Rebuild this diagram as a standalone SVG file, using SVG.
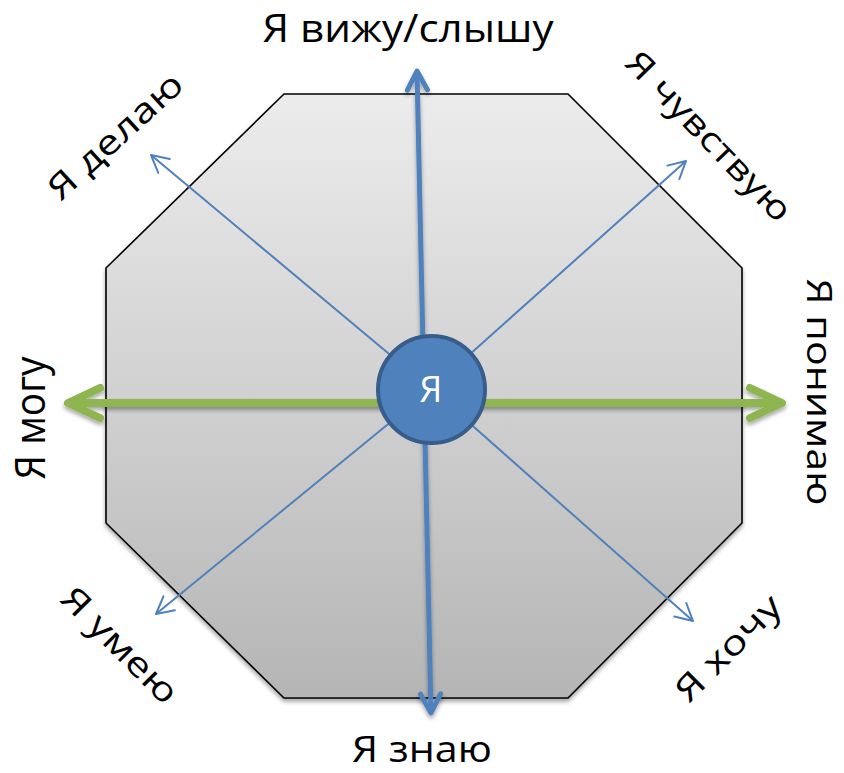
<svg xmlns="http://www.w3.org/2000/svg" width="844" height="773" viewBox="0 0 844 773">
<defs>
<linearGradient id="octFill" x1="0" y1="0" x2="0" y2="1">
<stop offset="0" stop-color="#ececec"/>
<stop offset="1" stop-color="#b5b5b5"/>
</linearGradient>
<filter id="shadow" filterUnits="userSpaceOnUse" x="0" y="0" width="844" height="773">
<feDropShadow dx="0" dy="3" stdDeviation="2" flood-color="#000" flood-opacity="0.35"/>
</filter>
<marker id="headGreen" markerUnits="userSpaceOnUse" markerWidth="60" markerHeight="60" orient="auto-start-reverse" overflow="visible">
<path d="M-32,-15 L0,0 L-32,15" fill="none" stroke="#8eb550" stroke-width="8" stroke-linecap="round" stroke-linejoin="round"/>
</marker>
<marker id="headBlue" markerUnits="userSpaceOnUse" markerWidth="60" markerHeight="60" orient="auto-start-reverse" overflow="visible">
<path d="M-19,-10 L0,0 L-19,10" fill="none" stroke="#4f81bd" stroke-width="5" stroke-linecap="round" stroke-linejoin="round"/>
</marker>
<marker id="headThin" markerUnits="userSpaceOnUse" markerWidth="40" markerHeight="40" orient="auto" overflow="visible">
<path d="M-17,-9 L0,0 L-17,9" fill="none" stroke="#4f81bd" stroke-width="2" stroke-linecap="round" stroke-linejoin="round"/>
</marker>
</defs>
<style>
.lbl{font-family:"Open Sans","Noto Sans","Liberation Sans",sans-serif;fill:#000;}
.thin{stroke:#4f81bd;stroke-width:2;fill:none;marker-end:url(#headThin);}
</style>
<g id="octagon">
<polygon points="284,94 568,94 742,268 742,523 568,698 284,698 106,523 106,268" fill="url(#octFill)" stroke="#000" stroke-width="1.6" filter="url(#shadow)"/>
</g>
<g id="connectors">
<line x1="68" y1="403" x2="782" y2="403" stroke="#8eb550" stroke-width="8" marker-start="url(#headGreen)" marker-end="url(#headGreen)" filter="url(#shadow)"/>
<line x1="417" y1="71" x2="431" y2="713" stroke="#4f81bd" stroke-width="5" marker-start="url(#headBlue)" marker-end="url(#headBlue)" filter="url(#shadow)"/>
<line class="thin" x1="431" y1="389" x2="151" y2="155"/>
<line class="thin" x1="431" y1="389" x2="686" y2="161"/>
<line class="thin" x1="431" y1="389" x2="156" y2="614"/>
<line class="thin" x1="431" y1="389" x2="693" y2="621"/>
</g>
<g id="center">
<circle cx="431.5" cy="389.5" r="53.5" fill="#4f81bd" stroke="#385d8a" stroke-width="4"/>
<text x="431" y="402" text-anchor="middle" font-family="Open Sans, Noto Sans, sans-serif" font-size="36" fill="#fff">Я</text>
</g>
<g id="label-top"><text class="lbl" x="408" y="42" text-anchor="middle" font-size="38" textLength="291" lengthAdjust="spacingAndGlyphs">Я вижу/слышу</text></g>
<g id="label-bottom"><text class="lbl" x="422" y="762" text-anchor="middle" font-size="37" textLength="140" lengthAdjust="spacingAndGlyphs">Я знаю</text></g>
<g id="label-left"><text class="lbl" transform="translate(45,418) rotate(-90)" text-anchor="middle" font-size="42" textLength="123" lengthAdjust="spacingAndGlyphs">Я могу</text></g>
<g id="label-right"><text class="lbl" transform="translate(807,392) rotate(90)" text-anchor="middle" font-size="34" textLength="227" lengthAdjust="spacingAndGlyphs">Я понимаю</text></g>
<g id="label-tl"><text class="lbl" transform="translate(115,136) rotate(-42.5)" x="0" y="12" text-anchor="middle" font-size="34" textLength="170" lengthAdjust="spacingAndGlyphs">Я делаю</text></g>
<g id="label-tr"><text class="lbl" transform="translate(709,136) rotate(46)" x="0" y="12" text-anchor="middle" font-size="34" textLength="222" lengthAdjust="spacingAndGlyphs">Я чувствую</text></g>
<g id="label-bl"><text class="lbl" transform="translate(120,645) rotate(45)" x="0" y="12" text-anchor="middle" font-size="34" textLength="150" lengthAdjust="spacingAndGlyphs">Я умею</text></g>
<g id="label-br"><text class="lbl" transform="translate(728,648) rotate(-45)" x="0" y="12" text-anchor="middle" font-size="34" textLength="135" lengthAdjust="spacingAndGlyphs">Я хочу</text></g>
</svg>
